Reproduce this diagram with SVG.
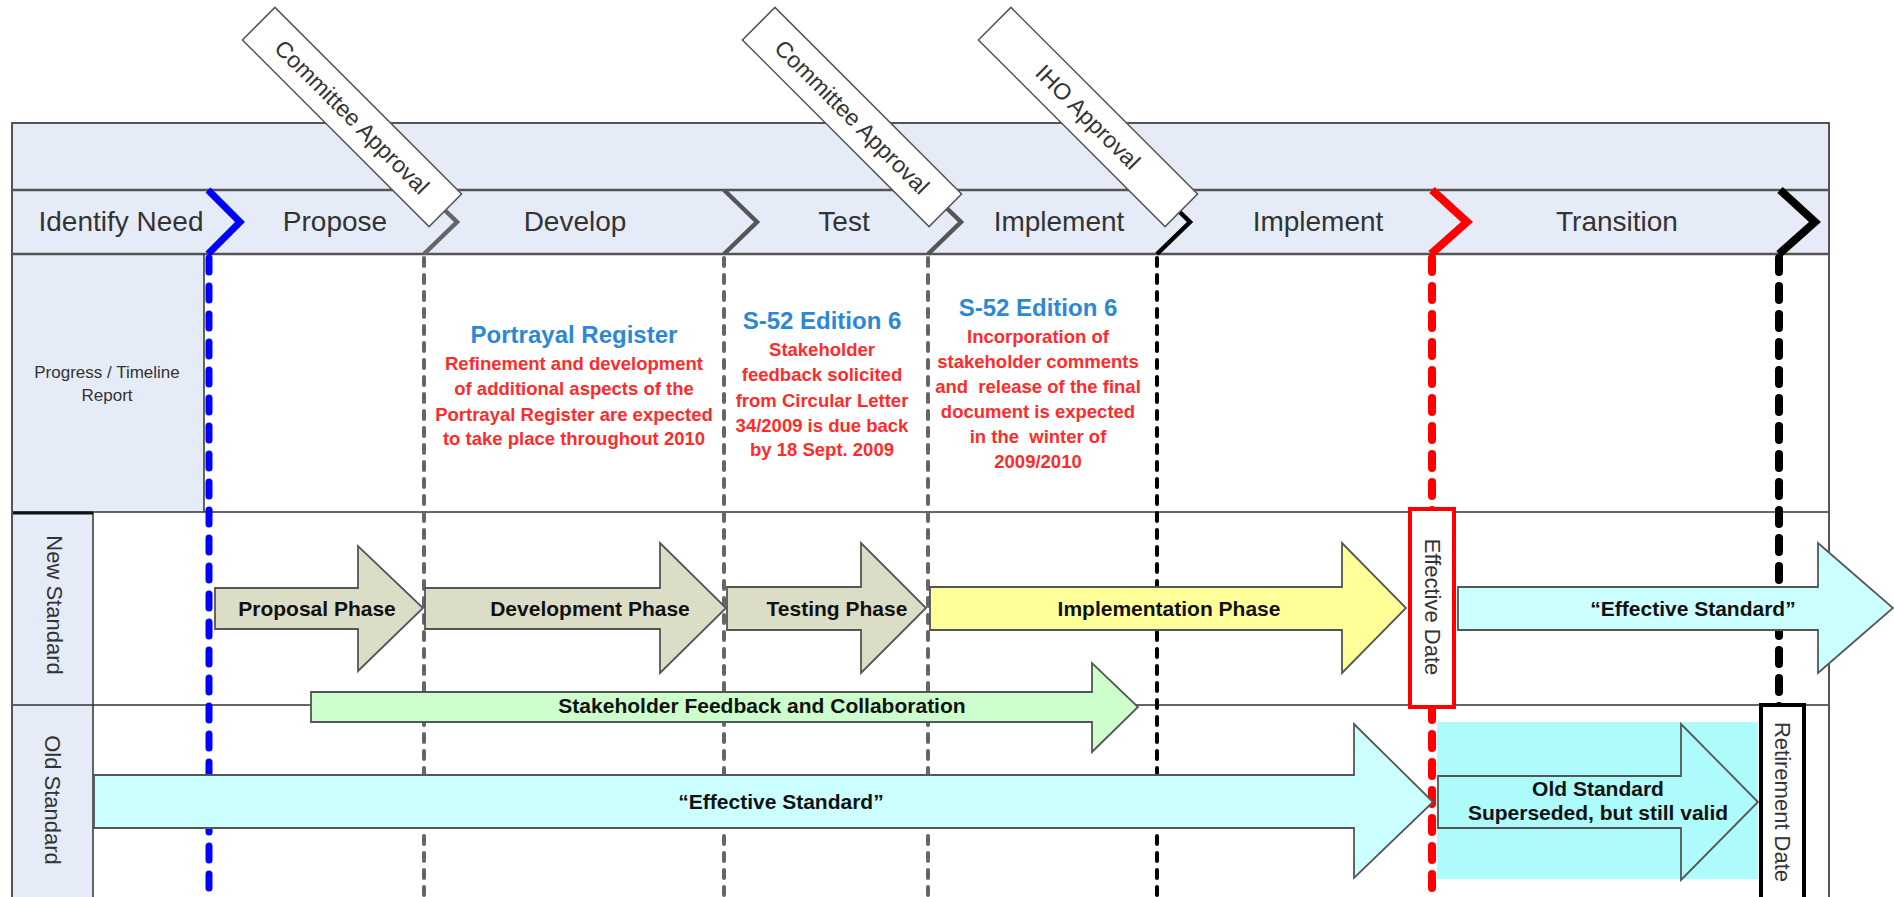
<svg xmlns="http://www.w3.org/2000/svg" width="1894" height="897" viewBox="0 0 1894 897">
<style>
  .band{fill:#E6ECF7}
  .rule{stroke:#555;stroke-width:2.5;fill:none}
  .thin{stroke:#333;stroke-width:1.5;fill:none}
  .hdr{font-family:"Liberation Sans",Arial,sans-serif;font-size:28px;fill:#333;text-anchor:middle}
  .lbl{font-family:"Liberation Sans",Arial,sans-serif;fill:#333;text-anchor:middle}
  .vt{font-family:"Liberation Sans",Arial,sans-serif;font-size:22px;fill:#333;text-anchor:middle;dominant-baseline:central}
  .appr rect{fill:#fff;stroke:#555;stroke-width:1.5}
  .appr text{font-family:"Liberation Sans",Arial,sans-serif;font-size:23px;fill:#333;text-anchor:middle;dominant-baseline:central}
  .arr polygon{stroke:#555;stroke-width:1.8}
  .at{font-family:"Liberation Sans",Arial,sans-serif;font-weight:bold;font-size:21px;fill:#111;text-anchor:middle;dominant-baseline:central}
  .blue{font-family:"Liberation Sans",Arial,sans-serif;font-weight:bold;font-size:24px;fill:#2B88D4;text-anchor:middle}
  .red{font-family:"Liberation Sans",Arial,sans-serif;font-weight:bold;font-size:18.5px;fill:#FF2B2B;text-anchor:middle;white-space:pre}
  .vl{fill:none;stroke-linecap:round}
  .chev{fill:none;stroke-linejoin:miter}
</style>

<g id="table">
  <rect class="band" x="12" y="123" width="1817" height="131"/>
  <rect class="band" x="12" y="254" width="192" height="258"/>
  <rect class="band" x="12" y="512" width="81" height="385"/>
  <line class="rule" x1="12" y1="190" x2="1829" y2="190"/>
  <line class="rule" x1="12" y1="254" x2="1829" y2="254"/>
  <line class="thin" x1="12" y1="512" x2="1829" y2="512"/>
  <line class="thin" x1="12" y1="705" x2="1829" y2="705"/>
  <line class="thin" x1="204" y1="254" x2="204" y2="512"/>
  <line class="thin" x1="93" y1="512" x2="93" y2="897"/>
  <line x1="12" y1="513" x2="93" y2="513" stroke="#111" stroke-width="3"/>
  <rect x="12" y="123" width="1817" height="790" fill="none" stroke="#555" stroke-width="2"/>
  <text class="hdr" x="121" y="231">Identify Need</text>
  <text class="hdr" x="335" y="231">Propose</text>
  <text class="hdr" x="575" y="231">Develop</text>
  <text class="hdr" x="844" y="231">Test</text>
  <text class="hdr" x="1059" y="231">Implement</text>
  <text class="hdr" x="1318" y="231">Implement</text>
  <text class="hdr" x="1617" y="231">Transition</text>
  <text class="lbl" font-size="17" x="107" y="378">Progress / Timeline</text>
  <text class="lbl" font-size="17" x="107" y="401">Report</text>
  <text class="vt" transform="translate(54,605) rotate(90)">New Standard</text>
  <text class="vt" transform="translate(52,800) rotate(90)">Old Standard</text>
</g>

<g id="connectors">
  <line class="vl" x1="209" y1="258" x2="209" y2="897" stroke="#0000FF" stroke-width="7" stroke-dasharray="14 14"/>
  <line class="vl" x1="424" y1="258" x2="424" y2="897" stroke="#666" stroke-width="4" stroke-dasharray="8 9"/>
  <line class="vl" x1="724" y1="258" x2="724" y2="897" stroke="#666" stroke-width="4" stroke-dasharray="8 9"/>
  <line class="vl" x1="928" y1="258" x2="928" y2="897" stroke="#666" stroke-width="4" stroke-dasharray="8 9"/>
  <line class="vl" x1="1157" y1="258" x2="1157" y2="897" stroke="#000" stroke-width="4" stroke-dasharray="8 9"/>
  <line class="vl" x1="1432" y1="258" x2="1432" y2="897" stroke="#FF0000" stroke-width="8" stroke-dasharray="14 14"/>
  <line class="vl" x1="1779" y1="258" x2="1779" y2="897" stroke="#000" stroke-width="8" stroke-dasharray="14 14"/>
  <polyline class="chev" points="208,190 240,222 208,254" stroke="#0000FF" stroke-width="7"/>
  <polyline class="chev" points="424,190 457,222 424,254" stroke="#666" stroke-width="4.5"/>
  <polyline class="chev" points="724,190 757,222 724,254" stroke="#555" stroke-width="4.5"/>
  <polyline class="chev" points="928,190 961,222 928,254" stroke="#555" stroke-width="4.5"/>
  <polyline class="chev" points="1157,190 1190,222 1157,254" stroke="#000" stroke-width="4.5"/>
  <polyline class="chev" points="1432,190 1467,222 1431,254" stroke="#FF0000" stroke-width="8"/>
  <polyline class="chev" points="1780,190 1815,222 1779,254" stroke="#000" stroke-width="8"/>
</g>

<g id="progress">
  <text class="blue" x="574" y="343">Portrayal Register</text>
  <text class="red" x="574" y="370">Refinement and development</text>
  <text class="red" x="574" y="395">of additional aspects of the</text>
  <text class="red" x="574" y="421">Portrayal Register are expected</text>
  <text class="red" x="574" y="445">to take place throughout 2010</text>

  <text class="blue" x="822" y="329">S-52 Edition 6</text>
  <text class="red" x="822" y="356">Stakeholder</text>
  <text class="red" x="822" y="381">feedback solicited</text>
  <text class="red" x="822" y="407">from Circular Letter</text>
  <text class="red" x="822" y="432">34/2009 is due back</text>
  <text class="red" x="822" y="456">by 18 Sept. 2009</text>

  <text class="blue" x="1038" y="316">S-52 Edition 6</text>
  <text class="red" x="1038" y="343">Incorporation of</text>
  <text class="red" x="1038" y="368">stakeholder comments</text>
  <text class="red" x="1038" y="393">and  release of the final</text>
  <text class="red" x="1038" y="418">document is expected</text>
  <text class="red" x="1038" y="443">in the  winter of</text>
  <text class="red" x="1038" y="468">2009/2010</text>
</g>

<g id="old-superseded-bg">
  <rect x="1437" y="722" width="321" height="157" fill="#ADFBFB"/>
</g>

<g id="proposal" class="arr">
  <polygon points="215,588 358,588 358,546 423,608 358,671 358,629 215,629" fill="#DCDDC6"/>
  <text class="at" x="317" y="608">Proposal Phase</text>
</g>
<g id="development" class="arr">
  <polygon points="425,588 660,588 660,543 726,608 660,673 660,629 425,629" fill="#DCDDC6"/>
  <text class="at" x="590" y="608">Development Phase</text>
</g>
<g id="testing" class="arr">
  <polygon points="727,587 861,587 861,543 926,608 861,673 861,630 727,630" fill="#DCDDC6"/>
  <text class="at" x="837" y="608">Testing Phase</text>
</g>
<g id="implementation" class="arr">
  <polygon points="930,587 1342,587 1342,543 1406,608 1342,673 1342,630 930,630" fill="#FFFF99"/>
  <text class="at" x="1169" y="608">Implementation Phase</text>
</g>
<g id="new-effective" class="arr">
  <polygon points="1458,587 1818,587 1818,543 1893,608 1818,673 1818,630 1458,630" fill="#CCFFFF"/>
  <text class="at" font-size="22" x="1693" y="608">“Effective Standard”</text>
</g>
<g id="stakeholder" class="arr">
  <polygon points="311,692 1092,692 1092,663 1138,707 1092,752 1092,722 311,722" fill="#CCFFCC"/>
  <text class="at" font-size="22" x="762" y="705">Stakeholder Feedback and Collaboration</text>
</g>
<g id="old-effective" class="arr">
  <polygon points="94,775 1354,775 1354,724 1433,802 1354,878 1354,828 94,828" fill="#CCFFFF"/>
  <text class="at" font-size="22" x="781" y="801">“Effective Standard”</text>
</g>
<g id="superseded" class="arr">
  <polygon points="1438,776 1681,776 1681,724 1758,802 1681,880 1681,828 1438,828" fill="#ADFBFB"/>
  <text class="at" font-size="20.5" x="1598" y="788">Old Standard</text>
  <text class="at" font-size="20.5" x="1598" y="812">Superseded, but still valid</text>
</g>

<g id="effective-date">
  <rect x="1410" y="509" width="44" height="198" fill="#fff" stroke="#FF0000" stroke-width="4"/>
  <text class="vt" font-size="21" transform="translate(1432,607) rotate(90)">Effective Date</text>
</g>
<g id="retirement-date">
  <rect x="1761" y="705" width="43" height="200" fill="#fff" stroke="#000" stroke-width="4"/>
  <text class="vt" font-size="21" transform="translate(1782,802) rotate(90)">Retirement Date</text>
</g>

<g id="committee-approval-1" class="appr" transform="translate(352,117) rotate(45)">
  <rect x="-132" y="-23" width="264" height="46"/>
  <text x="0" y="0">Committee Approval</text>
</g>
<g id="committee-approval-2" class="appr" transform="translate(852,117) rotate(45)">
  <rect x="-132" y="-23" width="264" height="46"/>
  <text x="0" y="0">Committee Approval</text>
</g>
<g id="iho-approval" class="appr" transform="translate(1088,117) rotate(45)">
  <rect x="-132" y="-23" width="264" height="46"/>
  <text x="0" y="0">IHO Approval</text>
</g>
</svg>
